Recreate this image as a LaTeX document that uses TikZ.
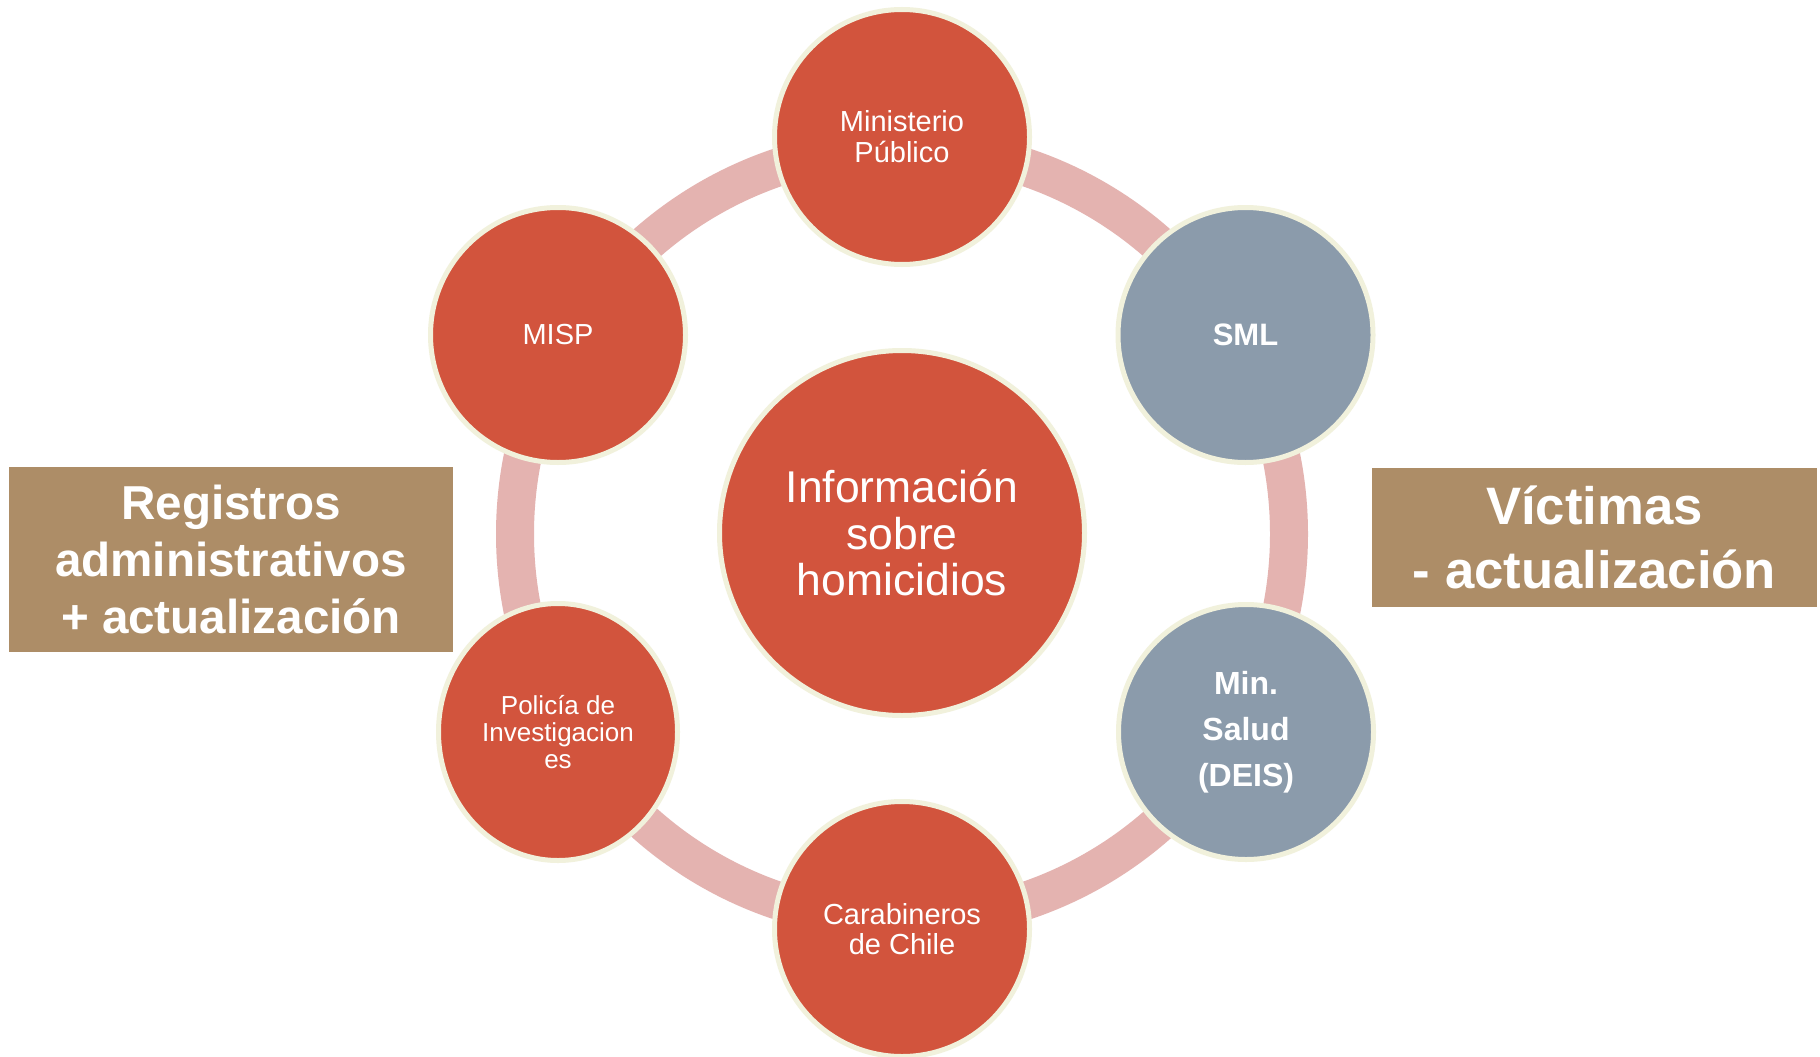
\documentclass[tikz,border=0pt]{standalone}
\usepackage{fontspec}
\setmainfont{Liberation Sans}
\usetikzlibrary{shapes.geometric}
\definecolor{cred}{HTML}{D2543D}
\definecolor{cgrey}{HTML}{8B9BAB}
\definecolor{ccream}{HTML}{F1F1DC}
\definecolor{cring}{HTML}{E4B3B0}
\definecolor{cbox}{HTML}{AD8D67}
\begin{document}
\begin{tikzpicture}[x=1pt,y=-1pt,
  bubble/.style={circle, draw=ccream, line width=5pt, minimum size=255pt, inner sep=0pt, text=white, align=center},
  redb/.style={bubble, fill=cred},
  greyb/.style={bubble, fill=cgrey},
  labelbox/.style={rectangle, fill=cbox, inner sep=0pt, text=white, align=center}]
\useasboundingbox (0,0) rectangle (1820,1057);
\fill[white] (0,0) rectangle (1820,1057);
\coordinate (ringc) at (902,534);
\draw[cring, line width=38pt] (ringc) circle[radius=387];
\node[redb, minimum size=365pt, font=\fontsize{44.5}{46.5}\selectfont] (center) at (902,533) {Información\\sobre\\homicidios};
\node[redb, font=\fontsize{29}{31}\selectfont] (mp) at (902,137) {Ministerio\\Público};
\node[greyb, font=\fontsize{31}{33}\selectfont\bfseries] (sml) at (1245.5,335) {SML};
\node[greyb, font=\fontsize{32}{46}\selectfont\bfseries] (minsal) at (1246,732) {Min.\\Salud\\(DEIS)};
\node[redb, font=\fontsize{29}{30}\selectfont] (carab) at (902,929) {Carabineros\\de Chile};
\node[redb, ellipse, minimum width=239pt, minimum height=257pt, font=\fontsize{26}{27}\selectfont] (pdi) at (558,732) {Policía de\\Investigacion\\es};
\node[redb, font=\fontsize{29}{31}\selectfont] (misp) at (558,335) {MISP};
\node[labelbox, minimum width=444pt, minimum height=185pt, font=\fontsize{47.6}{57}\selectfont\bfseries] (left) at (231,559.5) {Registros\\administrativos\\+ actualización};
\node[labelbox, minimum width=445pt, minimum height=139pt, font=\fontsize{52.7}{64}\selectfont\bfseries] (right) at (1594.5,537.5) {Víctimas\\- actualización};
\end{tikzpicture}
\end{document}
